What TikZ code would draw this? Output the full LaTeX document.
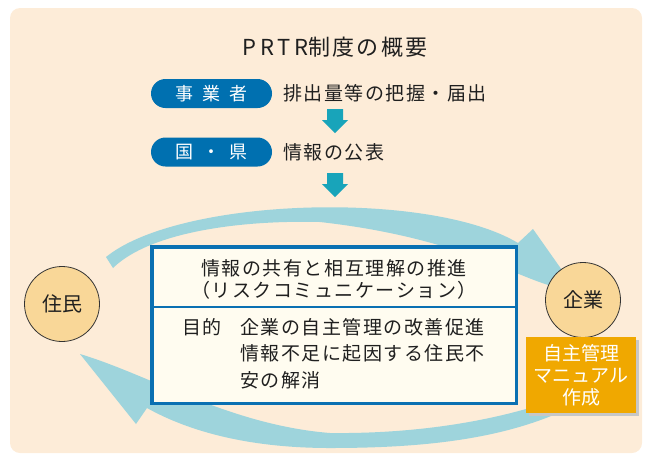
\documentclass[tikz,border=0pt]{standalone}
\usepackage{fontspec}
\setmainfont{Noto Sans CJK JP}
\newfontfamily\spacedjp[LetterSpace=8]{Noto Sans CJK JP}
\usetikzlibrary{shadows}
\definecolor{bgpeach}{RGB}{253,236,216}
\definecolor{arcblue}{RGB}{158,212,220}
\definecolor{pillblue}{RGB}{0,112,176}
\definecolor{downteal}{RGB}{24,164,186}
\definecolor{boxblue}{RGB}{10,112,178}
\definecolor{boxfill}{RGB}{255,252,240}
\definecolor{circfill}{RGB}{249,215,152}
\definecolor{goldbox}{RGB}{240,168,0}
\newcommand\setfs[2]{\fontsize{#1}{#2}\selectfont}
\tikzset{
  pillbox/.style={fill=pillblue, text=white, rounded corners=14.5pt, minimum width=121pt, minimum height=29pt, font=\setfs{18}{20}},
  jptext/.style={font=\spacedjp\setfs{19}{22}, text=black!88},
  roundnode/.style={circle, draw=black!80, line width=0.8pt, fill=circfill, minimum size=75pt, font=\setfs{20}{22}, text=black!88},
  downarrow/.style={fill=downteal},
  bigarc/.style={fill=arcblue}
}
\begin{document}
\begin{tikzpicture}[x=1pt,y=-1pt, every node/.style={inner sep=0pt, outer sep=0pt}]
\useasboundingbox (0,0) rectangle (650,459);
\fill[bgpeach, rounded corners=10pt] (10,8) rectangle (642,453);

% title
\node[font=\setfs{22}{24}, text=black!88] (title) at (335,47) {{\addfontfeature{LetterSpace=17}PRTR}\addfontfeature{LetterSpace=10}制度の概要};

% rows
\node[pillbox] (jigyo) at (211.5,93.5) {事\hspace{9pt}業\hspace{9pt}者};
\node[jptext, anchor=west] (haishutsu) at (283,93.5) {排出量等の把握・届出};
\node[pillbox] (kuni) at (211.5,152) {国\hspace{9pt}・\hspace{9pt}県};
\node[jptext, anchor=west] (kohyo) at (283,152) {情報の公表};

% down arrows
\fill[downteal] (327,109) -- (343,109) -- (343,120) -- (348,120) -- (335,133) -- (322,120) -- (327,120) -- cycle;
\fill[downteal] (327,173) -- (343,173) -- (343,184) -- (348,184) -- (335,197) -- (322,184) -- (327,184) -- cycle;

% big curved arrows
\fill[bigarc] (106,257) .. controls (180,197) and (430,190) .. (518,243) -- (533,229) -- (576,290)
   .. controls (530,290) and (480,240) .. (320,222)
   .. controls (240,220) and (150,232) .. (113,268) -- cycle;
\fill[bigarc] (565,410) .. controls (500,440) and (420,448) .. (330,448)
   .. controls (250,448) and (190,432) .. (147,408) -- (136,424) -- (80,354)
   .. controls (150,375) and (230,425) .. (330,433)
   .. controls (420,434) and (500,420) .. (560,398) -- cycle;

% central box
\node[draw=boxblue, line width=3.5pt, fill=boxfill, minimum width=364.5pt, minimum height=156.5pt] (box) at (334,325) {};
\draw[boxblue, line width=2pt] (box.west |- 0,307) -- (box.east |- 0,307);
\node[jptext] (kyoyu) at (334,268) {情報の共有と相互理解の推進};
\node[jptext] (risk) at (334,290) {（リスクコミュニケーション）};
\node[jptext, anchor=west] (mokuteki) at (182,327) {目的};
\node[jptext, anchor=west] (p1) at (240,327) {企業の自主管理の改善促進};
\node[jptext, anchor=west] (p2) at (240,353) {情報不足に起因する住民不};
\node[jptext, anchor=west] (p3) at (240,380) {安の解消};

% circles
\node[roundnode] (jumin) at (62,304) {住民};
\node[roundnode] (kigyo) at (583,300) {企業};

% manual box
\node[fill=goldbox, text=white, minimum width=110pt, minimum height=76pt, align=center,
      font=\setfs{19}{22.2}, drop shadow={shadow xshift=3pt, shadow yshift=-3pt, fill=black!22, opacity=1}]
      (manual) at (581,375) {自主管理\\マニュアル\\作成};
\end{tikzpicture}
\end{document}
